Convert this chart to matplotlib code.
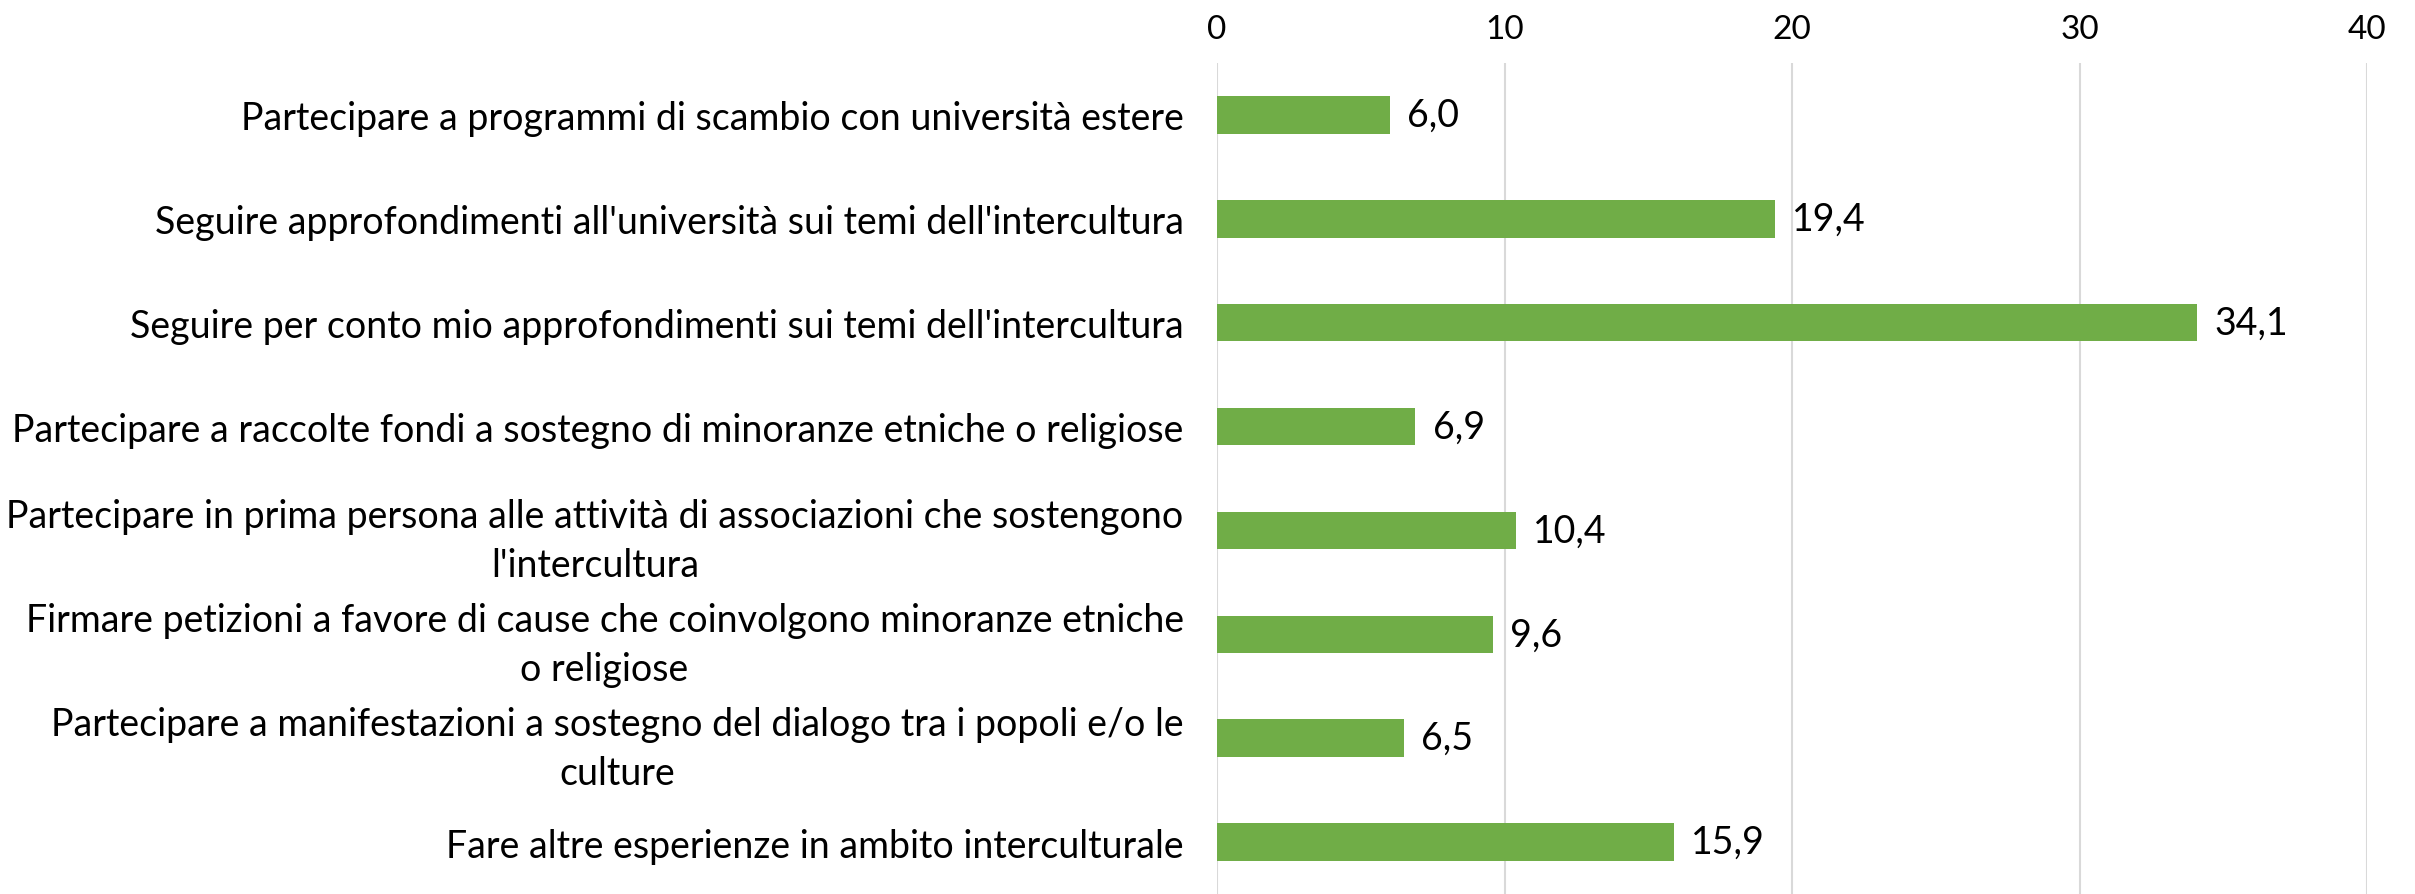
import matplotlib.pyplot as plt
import numpy as np

labels = [
    "Partecipare a programmi di scambio con università estere",
    "Seguire approfondimenti all'università sui temi dell'intercultura",
    "Seguire per conto mio approfondimenti sui temi dell'intercultura",
    "Partecipare a raccolte fondi a sostegno di minoranze etniche o religiose",
    "Partecipare in prima persona alle attività di associazioni che sostengono\nl'intercultura",
    "Firmare petizioni a favore di cause che coinvolgono minoranze etniche\no religiose",
    "Partecipare a manifestazioni a sostegno del dialogo tra i popoli e/o le\nculture",
    "Fare altre esperienze in ambito interculturale",
]
values = [6.0, 19.4, 34.1, 6.9, 10.4, 9.6, 6.5, 15.9]
xticks = [0, 10, 20, 30, 40]

plt.rcParams['font.family'] = ['Lato', 'DejaVu Sans']

fig = plt.figure(figsize=(24.15, 8.95), dpi=100)
ax = fig.add_axes([1217/2415, 0.0, (2367-1217)/2415, 1 - 64/895])

y = np.arange(len(labels))
ax.barh(y, values, height=0.36, color='#70AD47', zorder=3)
for yi, v in zip(y, values):
    ax.text(v + 0.6, yi, f"{v:.1f}".replace('.', ','), va='center', ha='left',
            fontsize=27, color='black')

ax.set_ylim(len(labels) - 0.5, -0.5)
ax.set_xlim(0, 40)
ax.set_yticks(y)
ax.set_yticklabels(labels, fontsize=27, multialignment='center', linespacing=1.45)
ax.set_xticks(xticks)
ax.set_xticklabels([str(t) for t in xticks], fontsize=24)
ax.xaxis.tick_top()
ax.tick_params(axis='y', length=0, pad=24)
ax.tick_params(axis='x', length=0, pad=14)
ax.grid(axis='x', color='#D9D9D9', linewidth=1.5, zorder=0)
for s in ax.spines.values():
    s.set_visible(False)

fig.savefig('out.png', dpi=100)
